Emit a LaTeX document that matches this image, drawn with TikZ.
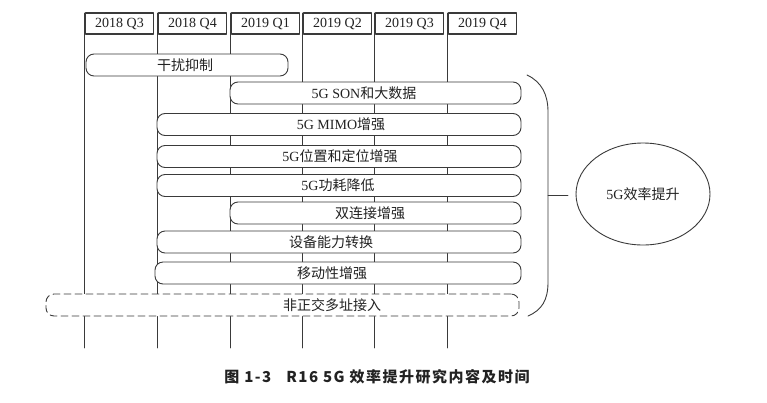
\documentclass[tikz,border=0pt]{standalone}
\usepackage{fontspec}
\setmainfont{Liberation Serif}
\newfontfamily\cjk{Noto Sans CJK SC}
\newfontfamily\capfont{Noto Sans CJK SC}[LetterSpace=10]
\usetikzlibrary{shapes.geometric}
\newcommand\zh[1]{{\cjk #1}}
\definecolor{linegray}{HTML}{3A3A3A}
\definecolor{txtgray}{HTML}{222222}
\tikzset{
  qline/.style={draw=linegray, line width=0.9pt},
  qbox/.style={draw=linegray, line width=1.3pt, fill=white, minimum width=68, minimum height=21, inner sep=0pt},
  bar/.style={draw=linegray, line width=0.9pt, rounded corners=8pt, fill=white, minimum height=22, inner sep=0pt},
  barlbl/.style={inner sep=0pt, text=txtgray},
}
\begin{document}
\begin{tikzpicture}[x=1pt, y=-1pt, line join=round, line cap=round, font=\fontsize{14}{16}\selectfont]
  \useasboundingbox (0,0) rectangle (767,402);

  % Quarter columns
  \foreach \x/\q [count=\i] in {84/2018 Q3, 157/2018 Q4, 230/2019 Q1, 302/2019 Q2, 374/2019 Q3, 447/2019 Q4} {
    \draw[qline] (\x,13) -- (\x,348);
    \node[qbox, text=txtgray] (q\i) at (\x+35.5,23.5) {\q};
  }

  % Work item bars
  \node[bar, minimum width=202] (gr) at (187,65) {};
  \node[bar, minimum width=291] (son) at (375.5,93) {};
  \node[bar, minimum width=364] (mimo) at (339,124.5) {};
  \node[bar, minimum width=364] (pos) at (339,156.5) {};
  \node[bar, minimum width=364] (pwr) at (339,185.5) {};
  \node[bar, minimum width=291] (dc) at (375.5,213) {};
  \node[bar, minimum width=364] (cap) at (339,242) {};
  \node[bar, minimum width=366] (mob) at (338,273) {};
  \node[bar, dashed, dash pattern=on 7pt off 4pt, minimum width=473] (noma) at (282.5,305) {};

  % Bar labels
  \node[barlbl] (grl) at (185,65) {\zh{干扰抑制}};
  \node[barlbl] (sonl) at (364,93) {5G SON\zh{和大数据}};
  \node[barlbl] (mimol) at (341,124.5) {5G MIMO\zh{增强}};
  \node[barlbl] (posl) at (340,156.5) {5G\zh{位置和定位增强}};
  \node[barlbl] (pwrl) at (338,185.5) {5G\zh{功耗降低}};
  \node[barlbl] (dcl) at (370,213) {\zh{双连接增强}};
  \node[barlbl] (capl) at (331,242) {\zh{设备能力转换}};
  \node[barlbl] (mobl) at (332,273) {\zh{移动性增强}};
  \node[barlbl] (nomal) at (332,305) {\zh{非正交多址接入}};

  % Right brace
  \coordinate (brt) at (527,75);
  \coordinate (brb) at (528,316);
  \coordinate (brm) at (548,195);
  \coordinate (tick) at (568,195);
  \draw[qline] (brt) .. controls (542,82) and (548,95) .. (548,112) -- (548,282)
    .. controls (548,300) and (542,310) .. (brb);
  \draw[qline] (brm) -- (tick);

  % Goal
  \node[ellipse, draw=linegray, line width=0.9pt, minimum width=134, minimum height=102, inner sep=0pt, text=txtgray] (eff) at (643,194) {5G\zh{效率提升}};

  % Caption
  \node[text=txtgray, font=\capfont\bfseries\fontsize{15}{17}\selectfont] (fig) at (377,377) {图 1-3\quad R16 5G 效率提升研究内容及时间};
\end{tikzpicture}
\end{document}
